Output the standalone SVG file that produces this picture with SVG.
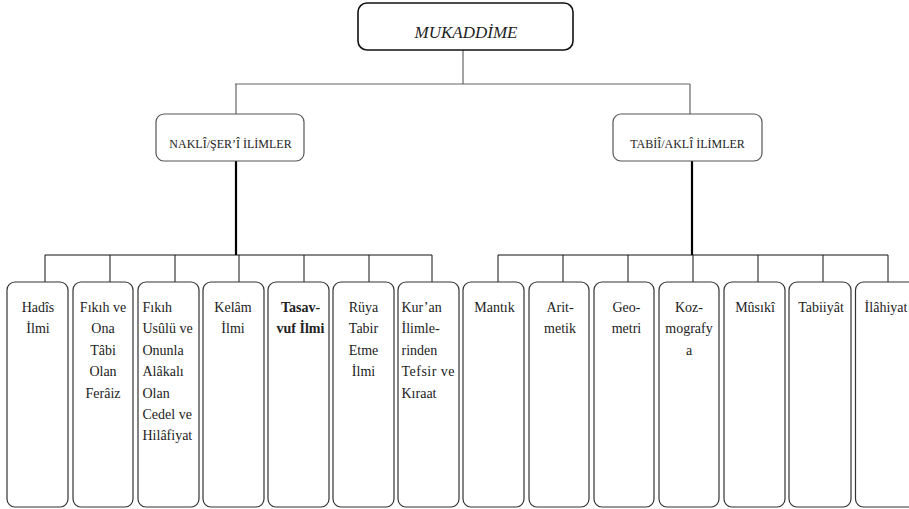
<svg xmlns="http://www.w3.org/2000/svg" width="909" height="509" viewBox="0 0 909 509">
<style>
text{font-family:"Liberation Serif","Times New Roman",serif;fill:#222}
.leaf{font-size:14px}
.c{text-anchor:middle}
.box{fill:#fff;stroke:#333;stroke-width:1.2}
.top{fill:#fff;stroke:#111;stroke-width:1.6}
.mid{fill:#fff;stroke:#555;stroke-width:1.2}
.ln{stroke:#111;stroke-width:1;fill:none}
.gl{stroke:#666;stroke-width:1.2;fill:none}
.th{stroke:#000;stroke-width:2.2;fill:none}
</style>
<rect width="909" height="509" fill="#fff"/>
<g id="connectors">
<path class="gl" d="M463 50V84M235 84H690M236 84V114M690 84V114"/>
<path class="th" d="M236 161V255M692 161V255"/>
<path class="ln" d="M45 255H432M45 255V282M110 255V282M175 255V282M239 255V282M304 255V282M369 255V282M432 255V282"/>
<path class="ln" d="M498 255H888M498 255V282M563 255V282M628 255V282M693 255V282M758 255V282M823 255V282M888 255V282"/>
</g>
<g id="mukaddime"><rect class="top" x="358" y="3" width="215" height="47" rx="9"/><text x="466" y="38" class="c" font-size="17" font-style="italic">MUKADDİME</text></g>
<g id="nakli"><rect class="mid" x="156" y="114" width="148" height="47" rx="8"/><text x="230.5" y="148" class="c" font-size="12">NAKLÎ/ŞER’Î İLİMLER</text></g>
<g id="tabii"><rect class="mid" x="613" y="114" width="149" height="47" rx="8"/><text x="687.5" y="148" class="c" font-size="12">TABİÎ/AKLÎ İLİMLER</text></g>

<g id="hadis"><rect class="box" x="7" y="282" width="61" height="225" rx="8"/><text class="leaf c" x="38" y="312">Hadîs<tspan x="38" dy="21.4">İlmi</tspan></text></g>
<g id="fikih"><rect class="box" x="73" y="282" width="60" height="225" rx="8"/><text class="leaf c" x="103" y="312">Fıkıh ve<tspan x="103" dy="21.4">Ona</tspan><tspan x="103" dy="21.4">Tâbi</tspan><tspan x="103" dy="21.4">Olan</tspan><tspan x="103" dy="21.4">Ferâiz</tspan></text></g>
<g id="usul"><rect class="box" x="138" y="282" width="61" height="225" rx="8"/><text class="leaf" x="142.5" y="312">Fıkıh<tspan x="142.5" dy="21.4">Usûlü ve</tspan><tspan x="142.5" dy="21.4">Onunla</tspan><tspan x="142.5" dy="21.4">Alâkalı</tspan><tspan x="142.5" dy="21.4">Olan</tspan><tspan x="142.5" dy="21.4">Cedel ve</tspan><tspan x="142.5" dy="21.4">Hilâfiyat</tspan></text></g>
<g id="kelam"><rect class="box" x="203" y="282" width="61" height="225" rx="8"/><text class="leaf c" x="233" y="312">Kelâm<tspan x="233" dy="21.4">İlmi</tspan></text></g>
<g id="tasavvuf"><rect class="box" x="268" y="282" width="61" height="225" rx="8"/><text class="leaf c" x="300.5" y="312" font-weight="bold">Tasav-<tspan x="300.5" dy="21.4">vuf İlmi</tspan></text></g>
<g id="ruya"><rect class="box" x="333" y="282" width="61" height="225" rx="8"/><text class="leaf c" x="363.5" y="312">Rüya<tspan x="363.5" dy="21.4">Tabir</tspan><tspan x="363.5" dy="21.4">Etme</tspan><tspan x="363.5" dy="21.4">İlmi</tspan></text></g>
<g id="kuran"><rect class="box" x="398" y="282" width="61" height="225" rx="8"/><text class="leaf" x="401.5" y="312">Kur’an<tspan x="401.5" dy="21.4">İlimle-</tspan><tspan x="401.5" dy="21.4">rinden</tspan><tspan x="401.5" dy="21.4" textLength="53" lengthAdjust="spacing">Tefsir ve</tspan><tspan x="401.5" dy="21.4">Kıraat</tspan></text></g>

<g id="mantik"><rect class="box" x="463" y="282" width="61" height="225" rx="8"/><text class="leaf c" x="494.5" y="312">Mantık</text></g>
<g id="aritmetik"><rect class="box" x="529" y="282" width="60" height="225" rx="8"/><text class="leaf c" x="560" y="312">Arit-<tspan x="560" dy="21.4">metik</tspan></text></g>
<g id="geometri"><rect class="box" x="594" y="282" width="60" height="225" rx="8"/><text class="leaf c" x="626.5" y="312">Geo-<tspan x="626.5" dy="21.4">metri</tspan></text></g>
<g id="kozmografya"><rect class="box" x="659" y="282" width="60" height="225" rx="8"/><text class="leaf c" x="689" y="312">Koz-<tspan x="689" dy="21.4">mografy</tspan><tspan x="689" dy="21.4">a</tspan></text></g>
<g id="musiki"><rect class="box" x="724" y="282" width="61" height="225" rx="8"/><text class="leaf c" x="755" y="312">Mûsıkî</text></g>
<g id="tabiiyat"><rect class="box" x="789" y="282" width="62" height="225" rx="8"/><text class="leaf c" x="821" y="312">Tabiiyât</text></g>
<g id="ilahiyat"><rect class="box" x="855.5" y="282" width="62" height="225" rx="8"/><text class="leaf c" x="886" y="312">İlâhiyat</text></g>
</svg>
